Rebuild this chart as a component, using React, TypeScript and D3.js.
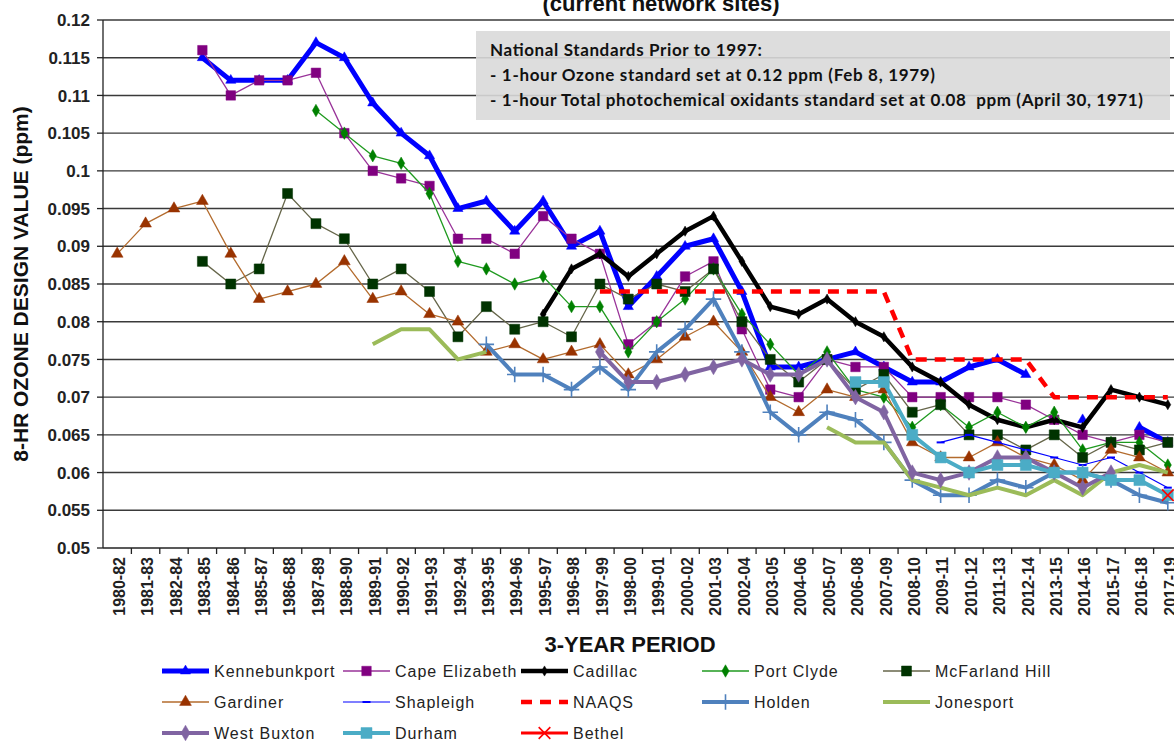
import React from 'react';
import * as d3 from 'd3';

// 3-year periods on the x axis
const periods = [
  '1980-82', '1981-83', '1982-84', '1983-85', '1984-86', '1985-87', '1986-88', '1987-89',
  '1988-90', '1989-91', '1990-92', '1991-93', '1992-94', '1993-95', '1994-96', '1995-97',
  '1996-98', '1997-99', '1998-00', '1999-01', '2000-02', '2001-03', '2002-04', '2003-05',
  '2004-06', '2005-07', '2006-08', '2007-09', '2008-10', '2009-11', '2010-12', '2011-13',
  '2012-14', '2013-15', '2014-16', '2015-17', '2016-18', '2017-19',
];

const yTicks = [0.05, 0.055, 0.06, 0.065, 0.07, 0.075, 0.08, 0.085, 0.09, 0.095, 0.1, 0.105, 0.11, 0.115, 0.12];
const yTickLabels = ['0.05', '0.055', '0.06', '0.065', '0.07', '0.075', '0.08', '0.085', '0.09', '0.095', '0.1', '0.105', '0.11', '0.115', '0.12'];

const _ = null;

// design values (ppm), one entry per period, null = no data
const kennebunkport = [_, _, _, 0.115, 0.112, 0.112, 0.112, 0.117, 0.115, 0.109, 0.105, 0.102, 0.095, 0.096, 0.092, 0.096, 0.090, 0.092, 0.082, 0.086, 0.090, 0.091, 0.084, 0.074, 0.074, 0.075, 0.076, 0.074, 0.072, 0.072, 0.074, 0.075, 0.073, _, 0.067, _, 0.066, 0.064];
const capeElizabeth = [_, _, _, 0.116, 0.110, 0.112, 0.112, 0.113, 0.105, 0.100, 0.099, 0.098, 0.091, 0.091, 0.089, 0.094, 0.091, 0.089, 0.077, 0.080, 0.086, 0.088, 0.079, 0.071, 0.070, 0.075, 0.074, 0.074, 0.070, 0.070, 0.070, 0.070, 0.069, 0.067, 0.065, 0.064, 0.065, 0.064];
const cadillac = [_, _, _, _, _, _, _, _, _, _, _, _, _, _, _, 0.081, 0.087, 0.089, 0.086, 0.089, 0.092, 0.094, 0.088, 0.082, 0.081, 0.083, 0.080, 0.078, 0.074, 0.072, 0.069, 0.067, 0.066, 0.067, 0.066, 0.071, 0.070, 0.069];
const portClyde = [_, _, _, _, _, _, _, 0.108, 0.105, 0.102, 0.101, 0.097, 0.088, 0.087, 0.085, 0.086, 0.082, 0.082, 0.076, 0.080, 0.083, 0.087, 0.081, 0.077, 0.073, 0.076, 0.071, 0.070, 0.066, 0.069, 0.066, 0.068, 0.066, 0.068, 0.063, 0.064, 0.064, 0.061];
const mcfarlandHill = [_, _, _, 0.088, 0.085, 0.087, 0.097, 0.093, 0.091, 0.085, 0.087, 0.084, 0.078, 0.082, 0.079, 0.080, 0.078, 0.085, 0.083, 0.085, 0.084, 0.087, 0.080, 0.075, 0.072, 0.075, 0.071, 0.073, 0.068, 0.069, 0.065, 0.065, 0.063, 0.065, 0.062, 0.064, 0.063, 0.064];
const gardiner = [0.089, 0.093, 0.095, 0.096, 0.089, 0.083, 0.084, 0.085, 0.088, 0.083, 0.084, 0.081, 0.080, 0.076, 0.077, 0.075, 0.076, 0.077, 0.073, 0.075, 0.078, 0.080, 0.076, 0.070, 0.068, 0.071, 0.070, 0.071, 0.064, 0.062, 0.062, 0.064, 0.062, 0.061, 0.059, 0.063, 0.062, 0.060];
const shapleigh = [_, _, _, _, _, _, _, _, _, _, _, _, _, _, _, _, _, _, _, _, _, _, _, _, _, _, _, _, _, 0.064, 0.065, 0.064, 0.063, 0.062, 0.061, 0.062, 0.060, 0.058];
const naaqs = [_, _, _, _, _, _, _, _, _, _, _, _, _, _, _, _, _, 0.084, 0.084, 0.084, 0.084, 0.084, 0.084, 0.084, 0.084, 0.084, 0.084, 0.084, 0.075, 0.075, 0.075, 0.075, 0.075, 0.070, 0.070, 0.070, 0.070, 0.070];
const holden = [_, _, _, _, _, _, _, _, _, _, _, _, _, 0.077, 0.073, 0.073, 0.071, 0.074, 0.071, 0.076, 0.079, 0.083, 0.076, 0.068, 0.065, 0.068, 0.067, 0.064, 0.059, 0.057, 0.057, 0.059, 0.058, 0.060, 0.060, 0.059, 0.057, 0.056];
const jonesport = [_, _, _, _, _, _, _, _, _, 0.077, 0.079, 0.079, 0.075, 0.076, _, _, _, _, _, _, _, _, _, _, _, 0.066, 0.064, 0.064, 0.059, 0.058, 0.057, 0.058, 0.057, 0.059, 0.057, 0.060, 0.061, 0.060];
const westBuxton = [_, _, _, _, _, _, _, _, _, _, _, _, _, _, _, _, _, 0.076, 0.072, 0.072, 0.073, 0.074, 0.075, 0.073, 0.073, 0.075, 0.070, 0.068, 0.060, 0.059, 0.060, 0.062, 0.062, 0.060, 0.058, 0.060, _, _];
const durham = [_, _, _, _, _, _, _, _, _, _, _, _, _, _, _, _, _, _, _, _, _, _, _, _, _, _, 0.072, 0.072, 0.065, 0.062, 0.060, 0.061, 0.061, 0.060, 0.060, 0.059, 0.059, 0.057];
const bethel = [_, _, _, _, _, _, _, _, _, _, _, _, _, _, _, _, _, _, _, _, _, _, _, _, _, _, _, _, _, _, _, _, _, _, _, _, _, 0.057];

const notes = [
  'National Standards Prior to 1997:',
  '- 1-hour Ozone standard set at 0.12 ppm (Feb 8, 1979)',
  '- 1-hour Total photochemical oxidants standard set at 0.08  ppm (April 30, 1971)',
];
const noteWidths = [272, 445, 653];

type Marker = 'triangle' | 'square' | 'diamond' | 'dash' | 'plus' | 'x' | 'none';

const series: { name: string; values: (number | null)[]; stroke: string; width: number; dash?: string; marker: Marker; mColor: string; mSize: number }[] = [
  { name: 'Kennebunkport', values: kennebunkport, stroke: '#0000ff', width: 5, marker: 'triangle', mColor: '#0000ff', mSize: 45 },
  { name: 'Cape Elizabeth', values: capeElizabeth, stroke: '#993399', width: 1.3, marker: 'square', mColor: '#800080', mSize: 90 },
  { name: 'Cadillac', values: cadillac, stroke: '#000000', width: 4.5, marker: 'diamond', mColor: '#000000', mSize: 30 },
  { name: 'Port Clyde', values: portClyde, stroke: '#1f9a1f', width: 1.3, marker: 'diamond', mColor: '#008000', mSize: 45 },
  { name: 'McFarland Hill', values: mcfarlandHill, stroke: '#66664a', width: 1.3, marker: 'square', mColor: '#003300', mSize: 100 },
  { name: 'Gardiner', values: gardiner, stroke: '#b36b2d', width: 1.3, marker: 'triangle', mColor: '#993300', mSize: 60 },
  { name: 'Shapleigh', values: shapleigh, stroke: '#0000ff', width: 1.2, marker: 'dash', mColor: '#0000ff', mSize: 4 },
  { name: 'NAAQS', values: naaqs, stroke: '#ff0000', width: 4.5, dash: '11,8', marker: 'none', mColor: '#ff0000', mSize: 0 },
  { name: 'Holden', values: holden, stroke: '#4f81bd', width: 4, marker: 'plus', mColor: '#4f81bd', mSize: 80 },
  { name: 'Jonesport', values: jonesport, stroke: '#9bbb59', width: 4, marker: 'none', mColor: '#9bbb59', mSize: 0 },
  { name: 'West Buxton', values: westBuxton, stroke: '#8064a2', width: 4, marker: 'diamond', mColor: '#8064a2', mSize: 70 },
  { name: 'Durham', values: durham, stroke: '#4bacc6', width: 4, marker: 'square', mColor: '#4bacc6', mSize: 120 },
  { name: 'Bethel', values: bethel, stroke: '#ff0000', width: 3, marker: 'x', mColor: '#ff0000', mSize: 90 },
];

const W = 1174;
const H = 742;
const plot = { left: 103, right: 1182, top: 20, bottom: 548 };

const x = d3.scaleBand().domain(periods).range([plot.left, plot.right]).padding(0);
const y = d3.scaleLinear().domain([0.05, 0.12]).range([plot.bottom, plot.top]);
const cx = (i: number) => (x(periods[i]) as number) + x.bandwidth() / 2;

const markerPath = (m: Marker, size: number) => {
  if (m === 'triangle') return d3.symbol(d3.symbolTriangle, size)();
  if (m === 'square') return d3.symbol(d3.symbolSquare, size)();
  if (m === 'diamond') return d3.symbol(d3.symbolDiamond, size)();
  if (m === 'plus') return d3.symbol(d3.symbolPlus, size)();
  if (m === 'x') return d3.symbol(d3.symbolX, size)();
  if (m === 'dash') return `M${-size},0L${size},0`;
  return '';
};

const MarkerShape = ({ s, tx, ty }: { s: typeof series[number]; tx: number; ty: number }) => {
  if (s.marker === 'none') return null;
  const stroked = s.marker === 'plus' || s.marker === 'x' || s.marker === 'dash';
  return (
    <path
      d={markerPath(s.marker, s.mSize) as string}
      transform={`translate(${tx},${ty})`}
      fill={stroked ? 'none' : s.mColor}
      stroke={s.mColor}
      strokeWidth={stroked ? (s.marker === 'dash' ? 2 : 1.6) : 0.5}
    />
  );
};

const legendCols = [162, 343, 521, 702, 883];
const legendRows = [671, 702, 733];

export default function App() {
  const line = d3
    .line<number | null>()
    .defined((v) => v != null)
    .x((_v, i) => cx(i))
    .y((v) => y(v as number));

  return (
    <svg width={W} height={H} style={{ position: 'absolute', left: 0, top: 0, background: '#fff' }}>
      <rect width={W} height={H} fill="#fff" />

      {/* title (partly off the top, as in the source) */}
      <text x={661} y={11} textAnchor="middle" fontFamily="Liberation Sans, Arial" fontWeight="bold" fontSize={22} fill="#111">
        (current network sites)
      </text>

      {/* gridlines */}
      {yTicks.slice(1).map((t) => (
        <line key={t} x1={plot.left} x2={plot.right} y1={y(t)} y2={y(t)} stroke="#3a3a3a" strokeWidth={1.4} />
      ))}

      {/* note box */}
      <rect x={476} y={31} width={694} height={89} fill="#d9d9d9" fillOpacity={0.9} />
      {notes.map((n, i) => (
        <text
          key={i}
          x={490}
          y={56 + i * 25}
          textLength={noteWidths[i]}
          lengthAdjust="spacing"
          fontFamily="Lato, Open Sans, sans-serif"
          fontWeight="bold"
          fontSize={17}
          fill="#111"
          style={{ whiteSpace: 'pre' }}
        >
          {n}
        </text>
      ))}

      {/* axes */}
      <line x1={plot.left} x2={plot.left} y1={plot.top} y2={plot.bottom} stroke="#222" strokeWidth={1.3} />
      <line x1={plot.left} x2={plot.right} y1={plot.bottom} y2={plot.bottom} stroke="#222" strokeWidth={1.3} />
      {yTicks.map((t, i) => (
        <g key={t}>
          <line x1={plot.left - 6} x2={plot.left} y1={y(t)} y2={y(t)} stroke="#222" strokeWidth={1.3} />
          <text x={90} y={y(t)} dy="0.36em" textAnchor="end" fontFamily="Liberation Sans, Arial" fontWeight="bold" fontSize={17} fill="#222">
            {yTickLabels[i]}
          </text>
        </g>
      ))}
      {periods.map((p, i) => (
        <g key={p}>
          <line x1={(x(p) as number) + x.bandwidth()} x2={(x(p) as number) + x.bandwidth()} y1={plot.bottom} y2={plot.bottom + 6} stroke="#222" strokeWidth={1.3} />
          <text
            transform={`translate(${cx(i) + 2},${plot.bottom + 9}) rotate(-90)`}
            dy="0.36em"
            textAnchor="end"
            fontFamily="Liberation Sans, Arial"
            fontWeight="bold"
            fontSize={16}
            fill="#222"
          >
            {p}
          </text>
        </g>
      ))}

      {/* axis titles */}
      <text transform="translate(20,284) rotate(-90)" dy="0.36em" textAnchor="middle" fontFamily="Liberation Sans, Arial" fontWeight="bold" fontSize={21} fill="#111">
        8-HR OZONE DESIGN VALUE (ppm)
      </text>
      <text x={630} y={652} textAnchor="middle" fontFamily="Liberation Sans, Arial" fontWeight="bold" fontSize={22} fill="#111">
        3-YEAR PERIOD
      </text>

      {/* series */}
      {series.map((s) => (
        <g key={s.name}>
          <path d={line(s.values) as string} fill="none" stroke={s.stroke} strokeWidth={s.width} strokeDasharray={s.dash} strokeLinejoin="round" />
          {s.values.map((v, i) => (v == null ? null : <MarkerShape key={i} s={s} tx={cx(i)} ty={y(v)} />))}
        </g>
      ))}

      {/* legend */}
      {series.map((s, k) => {
        const lx = legendCols[k % 5];
        const ly = legendRows[Math.floor(k / 5)];
        return (
          <g key={s.name}>
            <line x1={lx} x2={lx + 47} y1={ly} y2={ly} stroke={s.stroke} strokeWidth={s.width} strokeDasharray={s.dash} />
            <MarkerShape s={s} tx={lx + 23.5} ty={ly} />
            <text x={lx + 52} y={ly} dy="0.36em" fontFamily="Liberation Sans, Arial" fontSize={16} letterSpacing={1} fill="#222">
              {s.name}
            </text>
          </g>
        );
      })}
    </svg>
  );
}
